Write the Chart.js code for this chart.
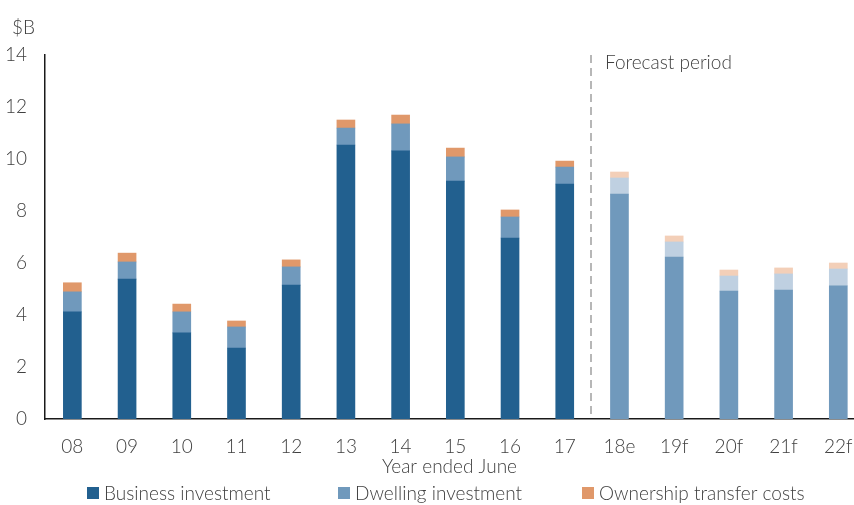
<!DOCTYPE html>
<html>
<head>
<meta charset="utf-8">
<script src="https://cdn.jsdelivr.net/npm/chart.js@4"></script>
<style>
  html, body { margin: 0; padding: 0; background: #fff; }
  #wrap { width: 854px; height: 505px; overflow: hidden; }
</style>
</head>
<body>
<div id="wrap"><canvas id="chart" width="854" height="505"></canvas></div>
<script>
(function () {
  'use strict';

  // Year ended June, $B
  var years      = ['08', '09', '10', '11', '12', '13', '14', '15', '16', '17', '18e', '19f', '20f', '21f', '22f'];
  var business   = [4.12, 5.38, 3.31, 2.73, 5.15, 10.54, 10.31, 9.15, 6.96, 9.04, 8.65, 6.23, 4.92, 4.96, 5.12];
  var dwelling   = [0.77, 0.66, 0.81, 0.81, 0.70, 0.65, 1.04, 0.93, 0.81, 0.65, 0.62, 0.58, 0.58, 0.62, 0.65];
  var ownership  = [0.35, 0.34, 0.30, 0.23, 0.27, 0.31, 0.34, 0.34, 0.27, 0.23, 0.23, 0.23, 0.23, 0.23, 0.23];
  var yTicks     = [0, 2, 4, 6, 8, 10, 12, 14];
  var firstForecast = 10; // index of 18e

  var TXT = '#404040';
  var FONT = '300 19px Lato, "Open Sans", sans-serif';
  var COLORS = {
    business:  { actual: '#22608f', forecast: '#7099bc' },
    dwelling:  { actual: '#7099bc', forecast: '#bfd0e1' },
    ownership: { actual: '#e0986a', forecast: '#f3cfb8' },
  };

  Chart.defaults.font.family = 'Lato, "Open Sans", sans-serif';
  Chart.defaults.font.size = 19;
  Chart.defaults.font.weight = 300;
  Chart.defaults.color = TXT;

  function points(values) {
    return values.map(function (v, i) { return { x: i, y: v }; });
  }

  function colorsFor(key) {
    return years.map(function (_, i) {
      return i >= firstForecast ? COLORS[key].forecast : COLORS[key].actual;
    });
  }

  function series(label, key, values) {
    return {
      label: label,
      data: points(values),
      backgroundColor: colorsFor(key),
      legendColor: COLORS[key].actual,
      barThickness: 18,
      borderWidth: 0,
    };
  }

  // dashed divider, "Forecast period", unit label and the legend row
  var extras = {
    id: 'extras',
    afterDraw: function (chart) {
      var ctx = chart.ctx;
      var area = chart.chartArea;
      var x = Math.round(chart.scales.x.getPixelForValue(firstForecast - 0.5)) - 1;

      ctx.save();
      ctx.strokeStyle = '#a6a6a6';
      ctx.lineWidth = 1.6;
      ctx.setLineDash([8, 5]);
      ctx.beginPath();
      ctx.moveTo(x, area.top);
      ctx.lineTo(x, area.bottom);
      ctx.stroke();
      ctx.setLineDash([]);

      ctx.fillStyle = TXT;
      ctx.font = FONT;
      ctx.textBaseline = 'middle';
      ctx.textAlign = 'left';
      ctx.fillText('Forecast period', x + 14, 63);

      ctx.textAlign = 'right';
      ctx.fillText('$B', 35, 28);

      var legendX = [87, 338, 582];
      var legendY = 493;
      ctx.textAlign = 'left';
      chart.data.datasets.forEach(function (ds, i) {
        ctx.fillStyle = ds.legendColor;
        ctx.fillRect(legendX[i], legendY - 6, 12, 12);
        ctx.fillStyle = TXT;
        ctx.fillText(ds.label, legendX[i] + 17, legendY + 1);
      });
      ctx.restore();
    },
  };

  new Chart(document.getElementById('chart'), {
    type: 'bar',
    data: {
      datasets: [
        series('Business investment', 'business', business),
        series('Dwelling investment', 'dwelling', dwelling),
        series('Ownership transfer costs', 'ownership', ownership),
      ],
    },
    options: {
      responsive: false,
      animation: false,
      devicePixelRatio: 1,
      layout: { padding: { top: 55, left: 0, right: 0, bottom: 0 } },
      plugins: { legend: { display: false }, tooltip: { enabled: false } },
      scales: {
        x: {
          type: 'linear',
          stacked: true,
          offset: false,
          min: -0.5,
          max: 14.287,
          grid: { display: false },
          border: { display: true, color: '#1a1a1a', width: 1.5 },
          afterBuildTicks: function (scale) {
            scale.ticks = years.map(function (_, i) { return { value: i }; });
          },
          afterFit: function (scale) {
            scale.height = 86;
            scale.paddingLeft = 0;
            scale.paddingRight = 0;
          },
          ticks: {
            autoSkip: false,
            maxRotation: 0,
            padding: 8,
            callback: function (v) { return years[v]; },
          },
          title: {
            display: true,
            text: 'Year ended June',
            padding: { top: 0, bottom: 27 },
          },
        },
        y: {
          stacked: true,
          min: 0,
          max: 14,
          grid: { display: false },
          border: { display: true, color: '#1a1a1a', width: 1.5 },
          afterBuildTicks: function (scale) {
            scale.ticks = yTicks.map(function (v) { return { value: v }; });
          },
          afterFit: function (scale) { scale.width = 45; },
          ticks: { padding: 10 },
        },
      },
    },
    plugins: [extras],
  });
})();
</script>
</body>
</html>
